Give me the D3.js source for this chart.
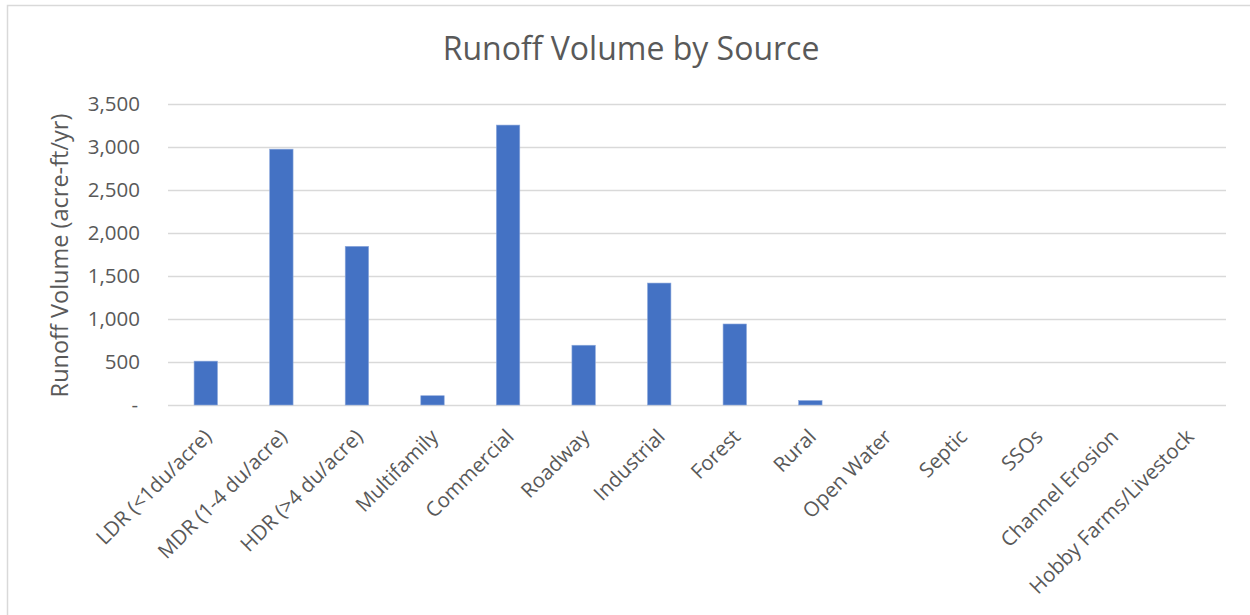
<!DOCTYPE html>
<html>
<head>
<meta charset="utf-8">
<script src="https://cdn.jsdelivr.net/npm/d3@7"></script>
<style>
  html, body { margin: 0; padding: 0; background: #fff; }
  svg { display: block; }
  text { font-family: "Open Sans", "Noto Sans", sans-serif; fill: #595959; }
</style>
</head>
<body>
<svg id="chart" width="1250" height="615"></svg>
<script>
// Runoff volume (acre-ft/yr) by land use / source
const categories = [
  "LDR (<1du/acre)", "MDR (1-4 du/acre)", "HDR (>4 du/acre)", "Multifamily",
  "Commercial", "Roadway", "Industrial", "Forest", "Rural", "Open Water",
  "Septic", "SSOs", "Channel Erosion", "Hobby Farms/Livestock"
];
const runoffVolume = [510, 2975, 1845, 108, 3255, 695, 1418, 942, 52, 0, 0, 0, 0, 0];
const yTicks = [0, 500, 1000, 1500, 2000, 2500, 3000, 3500];

const titleText = "Runoff Volume by Source";
const yTitleText = "Runoff Volume (acre-ft/yr)";

const svg = d3.select("#chart");
const W = 1250, H = 615;
const plot = { left: 168, right: 1226, top: 104, bottom: 405 };

// chart frame
svg.append("path")
  .attr("d", `M7.5,${H} V5.5 H${W}`)
  .attr("fill", "none")
  .attr("stroke", "#d9d9d9")
  .attr("stroke-width", 1.5);

const x = d3.scaleBand()
  .domain(categories)
  .range([plot.left, plot.right])
  .paddingInner(0.69)
  .paddingOuter(0.345);

const y = d3.scaleLinear()
  .domain([0, 3500])
  .range([plot.bottom, plot.top]);

// gridlines + y tick labels
const yAxis = d3.axisLeft(y)
  .tickValues(yTicks)
  .tickSize(-(plot.right - plot.left))
  .tickPadding(28)
  .tickFormat(d => d === 0 ? "-" : d3.format(",")(d));

const gy = svg.append("g")
  .attr("transform", `translate(${plot.left},0)`)
  .call(yAxis);
gy.select(".domain").remove();
gy.selectAll(".tick line").attr("stroke", "#d9d9d9").attr("stroke-width", 1.3);
gy.selectAll(".tick text")
  .attr("fill", "#595959")
  .style("font-size", "20.5px")
  .style("font-family", "'Open Sans', sans-serif");
gy.selectAll(".tick text").filter(d => d === 0).attr("dx", "-2");

// bars
svg.append("g")
  .selectAll("rect")
  .data(categories.map((c, i) => ({ c, v: runoffVolume[i] })))
  .join("rect")
  .attr("x", d => x(d.c))
  .attr("width", x.bandwidth())
  .attr("y", d => y(d.v))
  .attr("height", d => y(0) - y(d.v))
  .attr("fill", "#4472c4")
  .attr("stroke", "#8faadc")
  .attr("stroke-width", 0.6)
  .attr("display", d => d.v > 0 ? null : "none");

// rotated category labels
const xAxis = d3.axisBottom(x).tickSize(0).tickPadding(0);
const gx = svg.append("g")
  .attr("transform", `translate(0,${plot.bottom})`)
  .call(xAxis);
gx.select(".domain").remove();
gx.selectAll(".tick text")
  .attr("fill", "#595959")
  .style("font-size", "20.5px")
  .style("font-family", "'Open Sans', sans-serif")
  .attr("text-anchor", "end")
  .attr("dy", null)
  .attr("y", 0)
  .attr("transform", "translate(7,33) rotate(-45)");

// title
svg.append("text")
  .attr("x", 631)
  .attr("y", 60)
  .attr("text-anchor", "middle")
  .style("font-size", "32px")
  .text(titleText);

// y-axis title
svg.append("text")
  .attr("transform", `translate(59,${(plot.top + plot.bottom) / 2 + 1}) rotate(-90)`)
  .attr("text-anchor", "middle")
  .attr("dominant-baseline", "central")
  .style("font-size", "23.5px")
  .text(yTitleText);
</script>
</body>
</html>
